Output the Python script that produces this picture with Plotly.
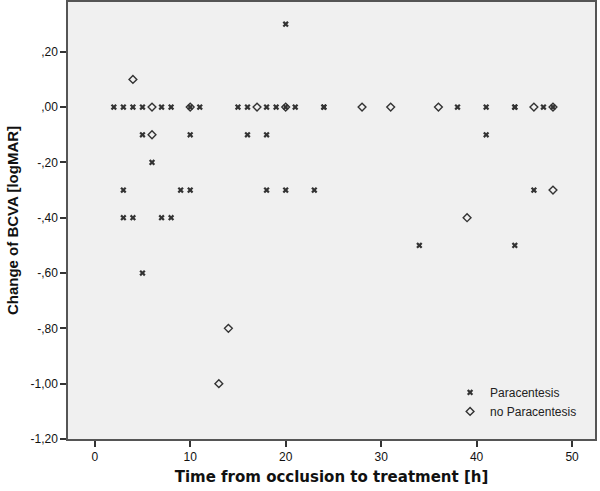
import plotly.graph_objects as go

# Paracentesis group (x markers)
para_x = [2, 3, 4, 5, 7, 8, 10, 11, 15, 16, 18, 19, 20, 21, 24, 24, 38, 41, 44, 44, 47, 48,
          20,
          5, 10, 16, 18, 41,
          6,
          3, 9, 10, 18, 20, 23, 46,
          3, 4, 7, 8,
          34, 44,
          5]
para_y = [0.0] * 22 + [0.30] + [-0.10] * 5 + [-0.20] + [-0.30] * 7 + [-0.40] * 4 + [-0.50] * 2 + [-0.60]

# no Paracentesis group (diamond markers)
nopara_x = [4, 6, 10, 17, 20, 28, 31, 36, 46, 48, 6, 48, 39, 14, 13]
nopara_y = [0.10] + [0.0] * 9 + [-0.10, -0.30, -0.40, -0.80, -1.00]

x_ticks = [0, 10, 20, 30, 40, 50]
y_ticks = [0.2, 0.0, -0.2, -0.4, -0.6, -0.8, -1.0, -1.2]
y_tick_labels = [",20", ",00", "-,20", "-,40", "-,60", "-,80", "-1,00", "-1,20"]

fig = go.Figure()
fig.add_trace(go.Scatter(
    x=para_x, y=para_y, mode="markers", name="Paracentesis",
    marker=dict(symbol="x", size=5.5, color="#333333", line=dict(width=0)),
))
fig.add_trace(go.Scatter(
    x=nopara_x, y=nopara_y, mode="markers", name="no Paracentesis",
    marker=dict(symbol="diamond-open", size=6, color="#333333", line=dict(width=1.4, color="#333333")),
))

fig.update_layout(
    width=600, height=491,
    margin=dict(l=68, r=5, t=2, b=52),
    paper_bgcolor="white",
    plot_bgcolor="#f0f0f0",
    font=dict(family="Liberation Sans, Arial, sans-serif", size=12, color="#111111"),
    showlegend=True,
    legend=dict(x=0.725, y=0.03, xanchor="left", yanchor="bottom",
                bgcolor="rgba(0,0,0,0)", font=dict(size=12, color="#222222"),
                tracegroupgap=0, itemwidth=30),
    xaxis=dict(
        range=[-2.8, 52.4], tickvals=x_ticks, ticks="outside", ticklen=6, tickwidth=1.5,
        tickcolor="#333333", showgrid=False, zeroline=False, automargin=False,
        showline=True, mirror=True, linecolor="#555555", linewidth=1.5,
        tickfont=dict(size=12),
        title=dict(text="<b>Time from occlusion to treatment [h]</b>",
                   font=dict(family="DejaVu Sans, Verdana, sans-serif", size=15), standoff=8),
    ),
    yaxis=dict(
        range=[-1.2, 0.38], tickvals=y_ticks, ticktext=y_tick_labels, ticks="outside",
        ticklen=6, tickwidth=1.5, tickcolor="#333333", showgrid=False, zeroline=False,
        automargin=False,
        showline=True, mirror=True, linecolor="#555555", linewidth=1.5,
        tickfont=dict(size=12),
        title=dict(text="<b>Change of BCVA [logMAR]</b>",
                   font=dict(family="Liberation Sans, Arial, sans-serif", size=15), standoff=8),
    ),
)

fig.write_html("out.html", config={"displayModeBar": False},
               post_script="document.body.style.margin='0px';")
